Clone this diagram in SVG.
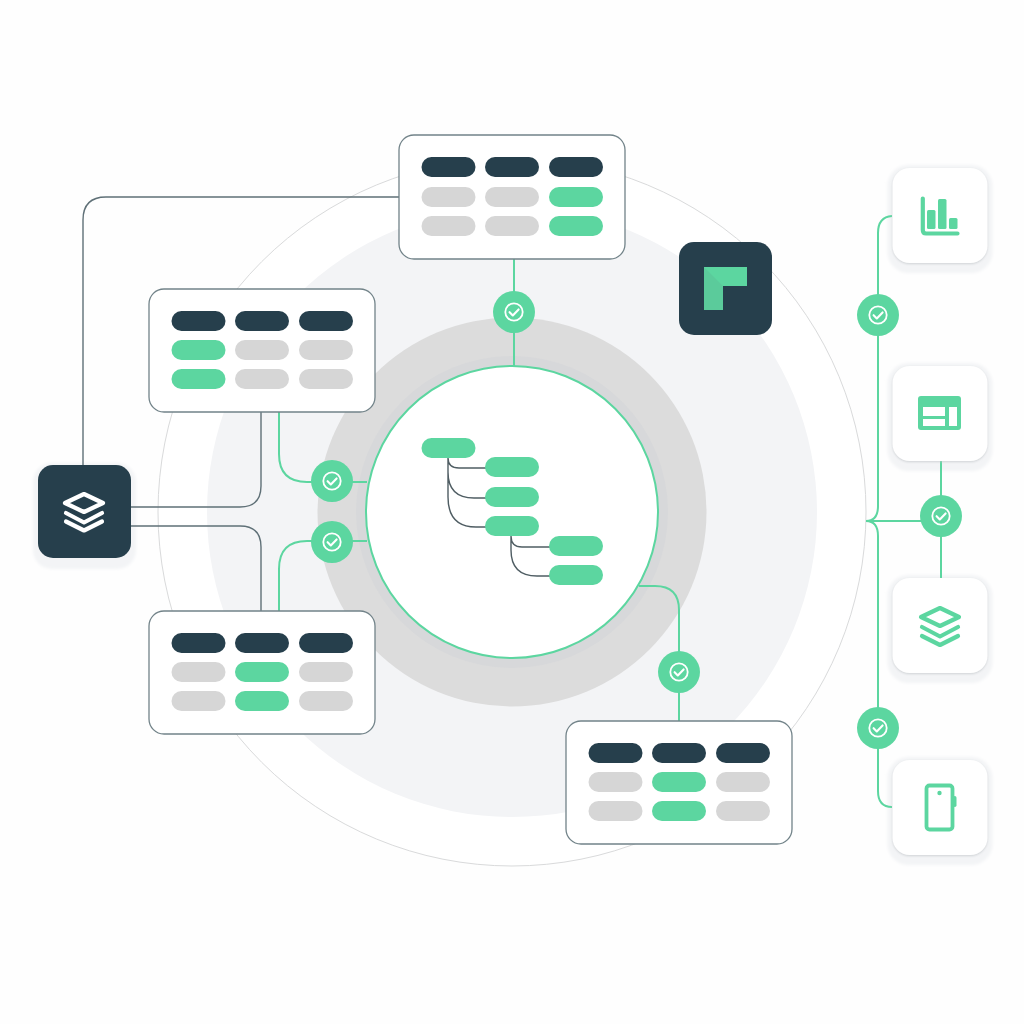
<svg xmlns="http://www.w3.org/2000/svg" width="1024" height="1024" viewBox="0 0 1024 1024">
<style>
.card{fill:#fff;stroke:#728389;stroke-width:1.3}
.d{fill:#263f4c}.g{fill:#5cd6a0}.n{fill:#d6d6d6}
.dk{fill:#263f4c}
.tile{fill:#fff}
.halo{fill:#f3f4f6;filter:url(#bl)}
.cg{fill:none;stroke:#5cd6a0;stroke-width:2}
.cd{fill:none;stroke:#5f7077;stroke-width:1.4}
.cs{fill:none;stroke:#4f5d63;stroke-width:1.4}
.ig{fill:none;stroke:#5cd6a0;stroke-width:4.2;stroke-linejoin:round;stroke-linecap:round}
.iw{fill:none;stroke:#fff;stroke-width:4.2;stroke-linejoin:round;stroke-linecap:round}
</style>
<defs>
<filter id="bl" x="-20%" y="-20%" width="140%" height="140%"><feGaussianBlur stdDeviation="1.5"/></filter>
<filter id="sh" x="-10%" y="-10%" width="120%" height="120%">
<feDropShadow dx="0" dy="1" stdDeviation="0.8" flood-color="#bfc3c7" flood-opacity="0.7"/>
</filter>
<g id="chk">
<circle r="21" fill="#5cd6a0"/>
<circle r="8.700" fill="none" stroke="#fff" stroke-width="1.800"/>
<path d="M-4.400 0.200L-1.200 3.400L4.600-2.600" fill="none" stroke="#fff" stroke-width="2.100" stroke-linecap="round" stroke-linejoin="round"/>
</g>
<rect id="p" width="54" height="20" rx="10"/>
</defs>
<rect width="1024" height="1024" fill="#fefefe"/>
<g id="rings">
<circle cx="512" cy="512" r="354" fill="#fff" stroke="#d9dadb" stroke-width="1"/>
<circle cx="512" cy="512" r="305" fill="#f3f4f6"/>
<circle cx="512" cy="512" r="194.500" fill="#dcdcdc"/>
<circle cx="512" cy="512" r="156" fill="#d7d8da"/>
<circle cx="512" cy="512" r="146" fill="#fff" stroke="#5cd6a0" stroke-width="2"/>
</g>
<g id="shadows">
<rect class="halo" x="33" y="463" width="103" height="106" rx="19"/>
<rect class="halo" x="887.500" y="165" width="105" height="108" rx="21"/>
<rect class="halo" x="887.500" y="363" width="105" height="108" rx="21"/>
<rect class="halo" x="887.500" y="575" width="105" height="108" rx="21"/>
<rect class="halo" x="887.500" y="757" width="105" height="108" rx="21"/>
</g>
<g id="connectors">
<path class="cd" d="M399 197H106Q83 197 83 220V465"/>
<path class="cd" d="M131 507H240Q261 507 261 486V412"/>
<path class="cd" d="M131 526H240Q261 526 261 547V611"/>
<path class="cg" d="M279 412V454Q279 482 307 482H367"/>
<path class="cg" d="M279 611V569Q279 541 307 541H367"/>
<path class="cg" d="M514 259V366"/>
<path class="cg" d="M639 586H655Q679 586 679 610V721"/>
<path class="cg" d="M892 216Q878 217 878 233V506Q878 521 866 521Q878 521 878 536V791Q878 807 892 807"/>
<path class="cg" d="M866 521H941M941 460V578"/>
<path class="cs" d="M448 458V497Q448 527 476 527H486M448 472Q448 498 474 498H486M448 458Q448 468 459 468H486"/>
<path class="cs" d="M511 536V550Q511 576 537 576H550M511 536Q511 547 522 547H550"/>
</g>
<g id="hub-tree">
<use href="#p" class="g" x="421.500" y="438"/>
<use href="#p" class="g" x="485" y="457"/>
<use href="#p" class="g" x="485" y="487"/>
<use href="#p" class="g" x="485" y="516"/>
<use href="#p" class="g" x="549" y="536"/>
<use href="#p" class="g" x="549" y="565"/>
</g>
<g id="table-top">
<rect class="card" x="399" y="135" width="226" height="124" rx="15"/>
<use href="#p" class="d" x="421.500" y="157"/><use href="#p" class="d" x="485" y="157"/><use href="#p" class="d" x="549" y="157"/>
<use href="#p" class="n" x="421.500" y="187"/><use href="#p" class="n" x="485" y="187"/><use href="#p" class="g" x="549" y="187"/>
<use href="#p" class="n" x="421.500" y="216"/><use href="#p" class="n" x="485" y="216"/><use href="#p" class="g" x="549" y="216"/>
</g>
<g id="table-left-top">
<rect class="card" x="149" y="289" width="226" height="123" rx="15"/>
<use href="#p" class="d" x="171.500" y="311"/><use href="#p" class="d" x="235" y="311"/><use href="#p" class="d" x="299" y="311"/>
<use href="#p" class="g" x="171.500" y="340"/><use href="#p" class="n" x="235" y="340"/><use href="#p" class="n" x="299" y="340"/>
<use href="#p" class="g" x="171.500" y="369"/><use href="#p" class="n" x="235" y="369"/><use href="#p" class="n" x="299" y="369"/>
</g>
<g id="table-left-bottom">
<rect class="card" x="149" y="611" width="226" height="123" rx="15"/>
<use href="#p" class="d" x="171.500" y="633"/><use href="#p" class="d" x="235" y="633"/><use href="#p" class="d" x="299" y="633"/>
<use href="#p" class="n" x="171.500" y="662"/><use href="#p" class="g" x="235" y="662"/><use href="#p" class="n" x="299" y="662"/>
<use href="#p" class="n" x="171.500" y="691"/><use href="#p" class="g" x="235" y="691"/><use href="#p" class="n" x="299" y="691"/>
</g>
<g id="table-bottom-right">
<rect class="card" x="566" y="721" width="226" height="123" rx="15"/>
<use href="#p" class="d" x="588.500" y="743"/><use href="#p" class="d" x="652" y="743"/><use href="#p" class="d" x="716" y="743"/>
<use href="#p" class="n" x="588.500" y="772"/><use href="#p" class="g" x="652" y="772"/><use href="#p" class="n" x="716" y="772"/>
<use href="#p" class="n" x="588.500" y="801"/><use href="#p" class="g" x="652" y="801"/><use href="#p" class="n" x="716" y="801"/>
</g>
<g id="source-node">
<rect class="dk" x="38" y="465" width="93" height="93" rx="15"/>
<path class="iw" d="M84 494L103 503L84 512L65 503Z"/>
<path class="iw" d="M66 513L84 522.500L102 513M66 521.500L84 530.500L102 521.500"/>
</g>
<g id="logo-node">
<rect class="dk" x="679" y="242" width="93" height="93" rx="15"/>
<path class="g" d="M704 267H747V286H723V310H704Z"/>
<path fill="#5bcb9b" d="M704 267L723 286V310H704Z"/>
</g>
<g id="tile-chart">
<rect class="tile" x="892.500" y="168" width="95" height="95" rx="17" filter="url(#sh)"/>
<path class="ig" d="M922.800 198.500V230Q922.800 233.500 926 233.500H957.500"/>
<rect class="g" x="927" y="210" width="8.500" height="19" rx="1.500"/>
<rect class="g" x="938" y="199" width="8.500" height="30" rx="1.500"/>
<rect class="g" x="949" y="218" width="8.500" height="11" rx="1.500"/>
</g>
<g id="tile-layout">
<rect class="tile" x="892.500" y="366" width="95" height="95" rx="17" filter="url(#sh)"/>
<rect class="g" x="918" y="396" width="43" height="34" rx="3"/>
<path fill="#fff" d="M923 407H945V416H923ZM923 419H945V426H923ZM949 407H957V426H949Z"/>
</g>
<g id="tile-stack">
<rect class="tile" x="892.500" y="578" width="95" height="95" rx="17" filter="url(#sh)"/>
<path class="ig" d="M940 608L959 617L940 626L921 617Z"/>
<path class="ig" d="M922 627L940 636.500L958 627M922 636L940 645L958 636"/>
</g>
<g id="tile-phone">
<rect class="tile" x="892.500" y="760" width="95" height="95" rx="17" filter="url(#sh)"/>
<rect x="926.500" y="785.500" width="26" height="44" rx="3" fill="none" stroke="#5cd6a0" stroke-width="3.800"/>
<circle class="g" cx="939.500" cy="793" r="2.200"/>
<rect class="g" x="953" y="796" width="3.500" height="11" rx="1.700"/>
</g>
<g id="checks">
<use href="#chk" x="514" y="312"/>
<use href="#chk" x="332" y="481"/>
<use href="#chk" x="332" y="542"/>
<use href="#chk" x="679" y="672"/>
<use href="#chk" x="878" y="315"/>
<use href="#chk" x="941" y="516"/>
<use href="#chk" x="878" y="728"/>
</g>
</svg>
